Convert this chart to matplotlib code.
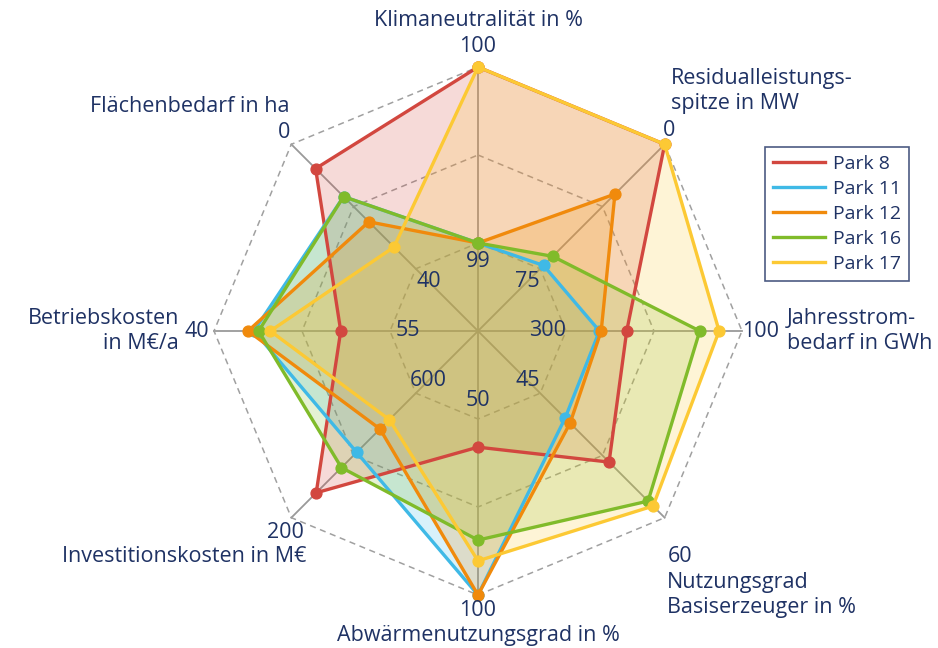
import numpy as np
import matplotlib
matplotlib.use("Agg")
import matplotlib.pyplot as plt

# Achsen im Uhrzeigersinn, beginnend oben
achsen = ["Klimaneutralität", "Residualleistungsspitze", "Jahresstrombedarf",
          "Nutzungsgrad", "Abwärmenutzungsgrad", "Investitionskosten",
          "Betriebskosten", "Flächenbedarf"]
# Wert am inneren Ring (1/3) und am äußeren Ring
wert_innen = [99, 75, 300, 45, 50, 600, 55, 40]
wert_aussen = [100, 0, 100, 60, 100, 200, 40, 0]

park_8 = [100, 0, 231, 53.3, 58, 280, 50.8, 7.8]
park_11 = [99, 73, 262, 48.0, 100, 410, 43.4, 16.8]
park_12 = [99, 30, 260, 48.6, 100, 485, 42.9, 24.9]
park_16 = [99, 67.5, 148, 58.0, 84.4, 361, 43.8, 16.8]
park_17 = [100, 0, 126, 58.6, 90.3, 515, 44.8, 33]

parks = ["Park 8", "Park 11", "Park 12", "Park 16", "Park 17"]
farben = ["#d2473f", "#3fb9e6", "#f08a0c", "#80bb2a", "#fcc934"]
werte = [park_8, park_11, park_12, park_16, park_17]

TXT = "#1f3264"
W, H = 938, 648
plt.rcParams['font.family'] = ['Open Sans', 'DejaVu Sans']


def to_r(v):
    v = np.asarray(v, dtype=float)
    lo = np.asarray(wert_innen, dtype=float)
    hi = np.asarray(wert_aussen, dtype=float)
    return 1/3 + (v - lo) / (hi - lo) * 2/3


def px(x, y):
    return x / W, 1 - y / H


fig = plt.figure(figsize=(W / 100, H / 100), dpi=100)
cx, cy, R = 478, 331, 264
ax = fig.add_axes([(cx - R) / W, (H - cy - R) / H, 2 * R / W, 2 * R / H],
                  projection="polar")
ax.set_theta_offset(np.pi / 2)
ax.set_theta_direction(-1)
ax.set_ylim(0, 1)
ax.grid(False)
ax.spines["polar"].set_visible(False)
ax.set_xticks([])
ax.set_yticks([])
ax.patch.set_alpha(0)

n = len(achsen)
theta = np.arange(n) * 2 * np.pi / n
theta_c = np.append(theta, theta[0])

# Speichen und gestrichelte Achteck-Ringe
for t in theta:
    ax.plot([t, t], [0, 1], color="#9a9a9a", lw=1.3, zorder=1, clip_on=False)
for lvl in [1/3, 2/3, 1]:
    ax.plot(theta_c, [lvl] * (n + 1), color="#a0a0a0", lw=1.1,
            ls=(0, (4, 3)), zorder=1, clip_on=False)

for name, farbe, w in zip(parks, farben, werte):
    r = to_r(w)
    r_c = np.append(r, r[0])
    ax.fill(theta_c, r_c, color=farbe, alpha=0.2, zorder=2, lw=0)
    ax.plot(theta_c, r_c, color=farbe, lw=2.4, marker="o", ms=7.8,
            label=name, zorder=3, clip_on=False)

fs = 15.5

# innere Beschriftung
for t, lab in zip(theta, wert_innen):
    ax.text(t, 0.265, str(lab), ha="center", va="center", fontsize=fs,
            color=TXT, zorder=5)

fig.text(*px(478, 20), "Klimaneutralität in %", ha="center", va="center", fontsize=fs, color=TXT)
fig.text(*px(478, 46), "100", ha="center", va="center", fontsize=fs, color=TXT)
fig.text(*px(671, 91), "Residualleistungs-\nspitze in MW", ha="left", va="center",
         fontsize=fs, color=TXT, linespacing=1.2)
fig.text(*px(669, 130), "0", ha="center", va="center", fontsize=fs, color=TXT)
fig.text(*px(761, 331), "100", ha="center", va="center", fontsize=fs, color=TXT)
fig.text(*px(787, 331), "Jahresstrom-\nbedarf in GWh", ha="left", va="center",
         fontsize=fs, color=TXT, linespacing=1.2)
fig.text(*px(680, 556), "60", ha="center", va="center", fontsize=fs, color=TXT)
fig.text(*px(667, 595), "Nutzungsgrad\nBasiserzeuger in %", ha="left", va="center",
         fontsize=fs, color=TXT, linespacing=1.2)
fig.text(*px(478, 610), "100", ha="center", va="center", fontsize=fs, color=TXT)
fig.text(*px(478, 636), "Abwärmenutzungsgrad in %", ha="center", va="center", fontsize=fs, color=TXT)
fig.text(*px(285, 532), "200", ha="center", va="center", fontsize=fs, color=TXT)
fig.text(*px(306, 557), "Investitionskosten in M€", ha="right", va="center", fontsize=fs, color=TXT)
fig.text(*px(197, 331), "40", ha="center", va="center", fontsize=fs, color=TXT)
fig.text(*px(179, 331), "Betriebskosten\nin M€/a", ha="right", va="center",
         fontsize=fs, color=TXT, linespacing=1.2, multialignment="right")
fig.text(*px(289, 106), "Flächenbedarf in ha", ha="right", va="center", fontsize=fs, color=TXT)
fig.text(*px(284, 132), "0", ha="center", va="center", fontsize=fs, color=TXT)

handles = [plt.Line2D([], [], color=f, lw=2.4) for f in farben]
leg = fig.legend(handles, parks, loc="upper left", bbox_to_anchor=px(765, 147),
                 frameon=True, fancybox=False, fontsize=14, handlelength=2.7,
                 labelspacing=0.36, borderpad=0.4, handletextpad=0.4,
                 borderaxespad=0, labelcolor=TXT)
leg.get_frame().set_edgecolor(TXT)
leg.get_frame().set_linewidth(1.2)

fig.savefig("out.png", dpi=100)
